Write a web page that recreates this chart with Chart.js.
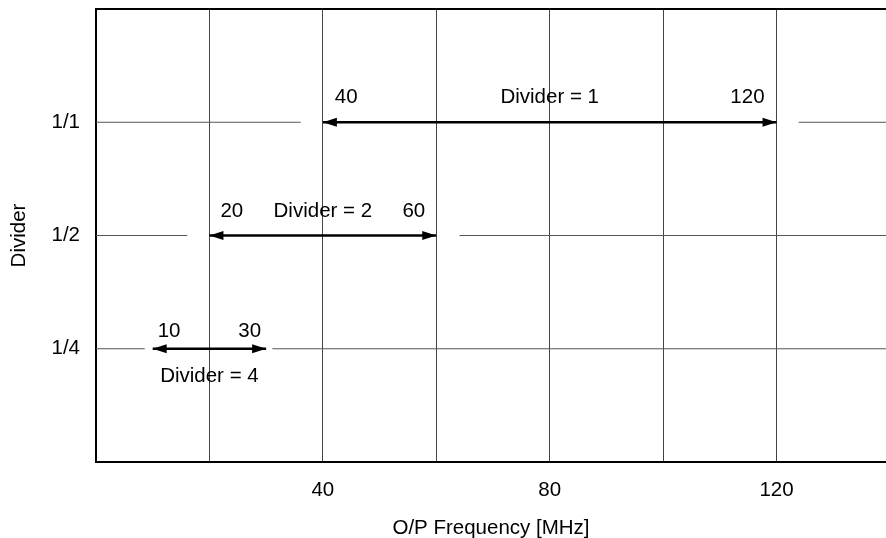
<!DOCTYPE html>
<html>
<head>
<meta charset="utf-8">
<title>Divider ranges</title>
<script src="https://cdn.jsdelivr.net/npm/chart.js@4.4.1/dist/chart.umd.min.js"></script>
<style>
    html, body { margin: 0; padding: 0; background: #fff; }
</style>
</head>
<body>
<canvas id="dividerChart" width="886" height="538"></canvas>
<script>
// divider rows, top to bottom
const dividers = [1, 2, 4];
const yTickLabels = ['1/1', '1/2', '1/4'];
const rowLevel = [3, 2, 1];

// output frequency range for each divider (MHz)
const rangeStart = [40, 20, 10];
const rangeEnd = [120, 60, 30];

// x axis
const xGridAt = [20, 40, 60, 80, 100, 120];
const xTickLabels = [40, 80, 120];
const xMin = 0;
const xMax = 139.3;

// where each row's guide line breaks off around the range arrow
const guideLeftEnd = [36.1, 16.1, 8.6];
const guideRightStart = [123.9, 64.1, 31.1];

const FONT_FAMILY = '"Liberation Sans", Arial, Helvetica, sans-serif';
const FONT_SIZE = 20.5;

// text placement per row (pixels)
const rowText = [
    { inset: 12, rise: 19, below: false },
    { inset: 11, rise: 19, below: false },
    { inset: 5,  rise: 12, below: true, drop: 33 }
];

function buildDatasets() {
    const sets = [];
    rowLevel.forEach((lv, i) => {
        // broken guide line, left part
        sets.push({
            data: [{ x: xMin, y: lv }, { x: guideLeftEnd[i], y: lv }],
            borderColor: '#555', borderWidth: 1, pointRadius: 0
        });
        // broken guide line, right part
        sets.push({
            data: [{ x: guideRightStart[i], y: lv }, { x: xMax, y: lv }],
            borderColor: '#555', borderWidth: 1, pointRadius: 0
        });
        // arrow shaft
        sets.push({
            data: [{ x: rangeStart[i], y: lv }, { x: rangeEnd[i], y: lv }],
            borderColor: '#000', borderWidth: 2.5, pointRadius: 0,
            borderCapStyle: 'butt'
        });
    });
    return sets;
}

function drawHead(ctx, xp, yp, dir) {
    const len = 14, half = 4.5;
    ctx.beginPath();
    ctx.moveTo(xp, yp);
    ctx.lineTo(xp - dir * len, yp - half);
    ctx.lineTo(xp - dir * len, yp + half);
    ctx.closePath();
    ctx.fill();
}

const rangeDecor = {
    id: 'rangeDecor',
    afterDatasetsDraw(chart) {
        const { ctx, chartArea, scales: { x, y } } = chart;
        ctx.save();

        // top frame
        ctx.strokeStyle = '#000';
        ctx.lineWidth = 2;
        ctx.beginPath();
        ctx.moveTo(chartArea.left, chartArea.top);
        ctx.lineTo(chartArea.right, chartArea.top);
        ctx.stroke();

        ctx.fillStyle = '#000';
        ctx.font = FONT_SIZE + 'px ' + FONT_FAMILY;
        ctx.textBaseline = 'alphabetic';

        rowLevel.forEach((lv, i) => {
            const yp = y.getPixelForValue(lv);
            const x0 = x.getPixelForValue(rangeStart[i]);
            const x1 = x.getPixelForValue(rangeEnd[i]);
            const t = rowText[i];

            drawHead(ctx, x0, yp, -1);
            drawHead(ctx, x1, yp, 1);

            ctx.textAlign = 'left';
            ctx.fillText(String(rangeStart[i]), x0 + t.inset, yp - t.rise);
            ctx.textAlign = 'right';
            ctx.fillText(String(rangeEnd[i]), x1 - t.inset, yp - t.rise);
            ctx.textAlign = 'center';
            ctx.fillText('Divider = ' + dividers[i], (x0 + x1) / 2, t.below ? yp + t.drop : yp - t.rise);
        });
        ctx.restore();
    }
};

function initChart() {
    if (typeof Chart === 'undefined') {
        console.warn('Chart.js not loaded.');
        return;
    }
    Chart.defaults.font.family = FONT_FAMILY;
    Chart.defaults.font.size = FONT_SIZE;
    Chart.defaults.color = '#000';

    new Chart(document.getElementById('dividerChart'), {
        type: 'line',
        data: { datasets: buildDatasets() },
        options: {
            responsive: false,
            devicePixelRatio: 1,
            animation: false,
            layout: { padding: { top: 9, right: 0, bottom: 0, left: 0 } },
            plugins: { legend: { display: false }, tooltip: { enabled: false } },
            scales: {
                x: {
                    type: 'linear',
                    min: xMin, max: xMax,
                    afterFit: s => { s.height = 76; s.paddingLeft = 0; s.paddingRight = 0; },
                    afterBuildTicks: s => { s.ticks = xGridAt.map(v => ({ value: v })); },
                    grid: { color: '#444', lineWidth: 1, drawTicks: false },
                    border: { display: true, color: '#000', width: 2 },
                    ticks: {
                        padding: 16, autoSkip: false, maxRotation: 0,
                        callback: v => xTickLabels.includes(v) ? String(v) : ''
                    },
                    title: { display: true, text: 'O/P Frequency [MHz]', padding: { top: 0, bottom: -3 } }
                },
                y: {
                    type: 'linear',
                    min: 0, max: 4,
                    // labels sit well inside the range, no edge padding needed
                    afterFit: s => { s.width = 96; s.paddingTop = 0; s.paddingBottom = 0; },
                    afterBuildTicks: s => { s.ticks = rowLevel.map(v => ({ value: v })); },
                    grid: { display: false, drawTicks: false },
                    border: { display: true, color: '#000', width: 2 },
                    ticks: {
                        padding: 16,
                        callback: v => yTickLabels[rowLevel.indexOf(v)]
                    },
                    title: { display: true, text: 'Divider', padding: { top: 7, bottom: 0 } }
                }
            }
        },
        plugins: [rangeDecor]
    });
}

document.addEventListener('DOMContentLoaded', initChart);
</script>
</body>
</html>
